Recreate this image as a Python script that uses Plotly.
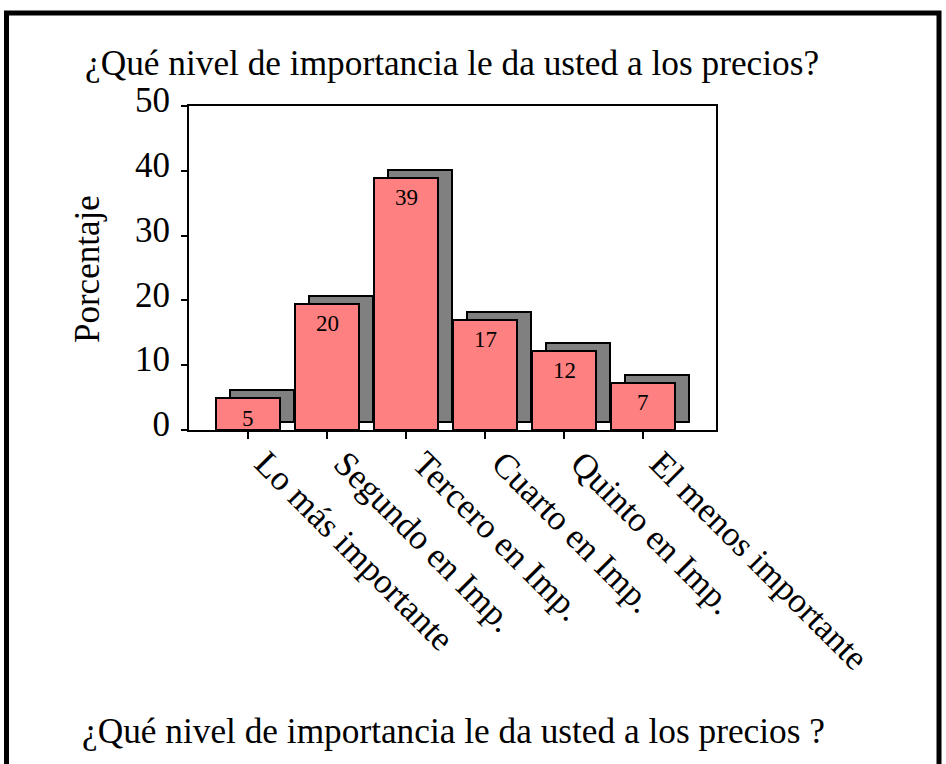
import plotly.graph_objects as go

categories = ["Lo más importante", "Segundo en Imp.", "Tercero en Imp.",
              "Cuarto en Imp.", "Quinto en Imp.", "El menos importante"]
values = [4.9, 19.5, 38.9, 17.0, 12.2, 7.3]
value_labels = ["5", "20", "39", "17", "12", "7"]
y_ticks = [0, 10, 20, 30, 40, 50]

title_text = "¿Qué nivel de importancia le da usted a los precios?"
footer_text = "¿Qué nivel de importancia le da usted a los precios ?"
y_title = "Porcentaje"

FONT = "Liberation Serif, Times New Roman, serif"
W, H = 946, 764
L, R, T, B = 189, 230, 106, 334
PW, PH = W - L - R, H - T - B

def px_x(x):
    return (x - L) / PW

def px_y(y):
    return (H - B - y) / PH

idx = list(range(len(categories)))
bar_w = 0.82
shadow_dx = 0.177
shadow_dy = 1.23

fig = go.Figure()
fig.add_trace(go.Bar(
    x=idx, y=values, base=[shadow_dy] * len(values),
    width=bar_w, offset=-bar_w / 2 + shadow_dx,
    marker=dict(color="#808080", line=dict(color="black", width=2)),
    hoverinfo="skip", showlegend=False,
))
fig.add_trace(go.Bar(
    x=idx, y=values, base=[0] * len(values),
    width=bar_w, offset=-bar_w / 2,
    marker=dict(color="#FF8080", line=dict(color="black", width=2)),
    hoverinfo="skip", showlegend=False,
))

for i, v, lab in zip(idx, values, value_labels):
    fig.add_annotation(x=i, y=v, xref="x", yref="y", text=lab, showarrow=False,
                       yanchor="middle", yshift=-20,
                       font=dict(family=FONT, size=23, color="black"))

fig.add_annotation(x=px_x(452), y=px_y(63), xref="paper", yref="paper",
                   text=title_text, showarrow=False, xanchor="center", yanchor="middle",
                   font=dict(family=FONT, size=35.3, color="black"))
fig.add_annotation(x=px_x(453), y=px_y(731), xref="paper", yref="paper",
                   text=footer_text, showarrow=False, xanchor="center", yanchor="middle",
                   font=dict(family=FONT, size=35.3, color="black"))
fig.add_annotation(x=px_x(87), y=px_y(269), xref="paper", yref="paper",
                   text=y_title, showarrow=False, textangle=-90,
                   xanchor="center", yanchor="middle",
                   font=dict(family=FONT, size=35, color="black"))

fig.add_shape(type="rect", xref="paper", yref="paper",
              x0=px_x(6.5), x1=px_x(939), y0=px_y(800), y1=px_y(13),
              line=dict(color="black", width=5), fillcolor="rgba(0,0,0,0)", layer="above")

fig.update_layout(
    width=W, height=H,
    margin=dict(l=L, r=R, t=T, b=B, pad=0),
    paper_bgcolor="white", plot_bgcolor="white",
    barmode="overlay", bargap=0,
    font=dict(family=FONT, size=35, color="black"),
)
fig.update_xaxes(
    range=[-0.747, 5.924], tickmode="array", tickvals=idx, ticktext=categories,
    tickangle=45, ticks="outside", ticklen=7, tickwidth=2, tickcolor="black",
    ticklabelshift=17, ticklabelstandoff=-10,
    showline=True, linewidth=2, linecolor="black", mirror=True,
    showgrid=False, zeroline=False,
    tickfont=dict(family=FONT, size=35, color="black"),
)
fig.update_yaxes(
    range=[0, 50], tickmode="array", tickvals=y_ticks,
    ticks="outside", ticklen=6, tickwidth=2, tickcolor="black",
    ticklabelshift=-6, ticklabelstandoff=4,
    showline=True, linewidth=2, linecolor="black", mirror=True,
    showgrid=False, zeroline=False,
    tickfont=dict(family=FONT, size=35, color="black"),
)

fig.write_html("out.html")
